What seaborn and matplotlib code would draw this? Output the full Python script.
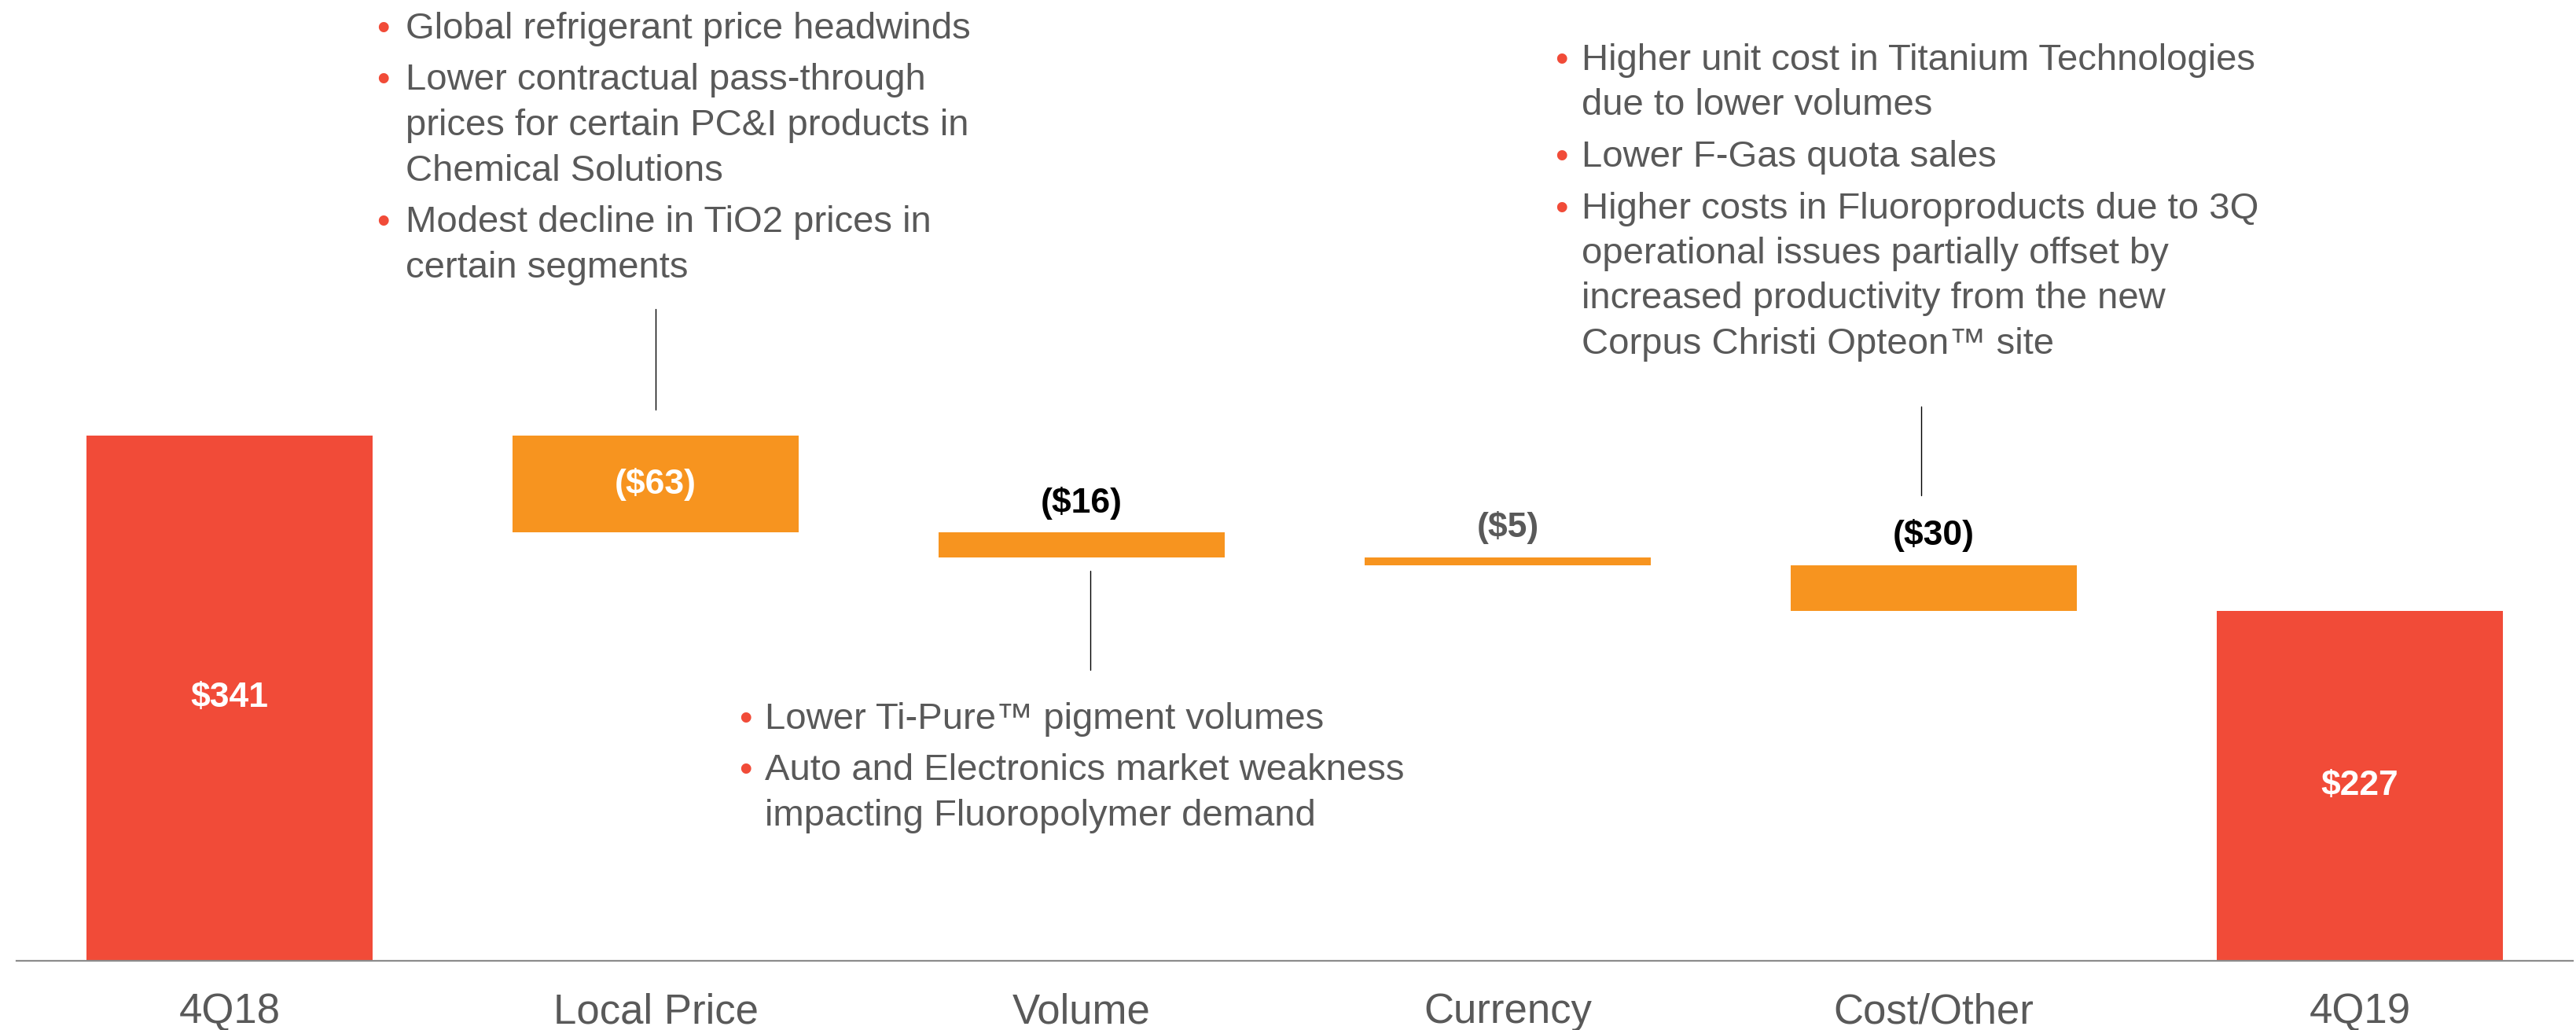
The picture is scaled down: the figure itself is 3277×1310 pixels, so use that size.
import numpy as np
import pandas as pd
import matplotlib
matplotlib.use('Agg')
import matplotlib.pyplot as plt
import seaborn as sns

# 기본 스타일
sns.set_style('white')
plt.rcParams['font.family'] = ['Liberation Sans', 'DejaVu Sans']

# 데이터
categories = ['4Q18', 'Local Price', 'Volume', 'Currency', 'Cost/Other', '4Q19']
changes = [341, -63, -16, -5, -30, 227]
is_total = [True, False, False, False, False, True]
value_labels = ['$341', '($63)', '($16)', '($5)', '($30)', '$227']

price_notes = [
    ['Global refrigerant price headwinds'],
    ['Lower contractual pass-through', 'prices for certain PC&I products in', 'Chemical Solutions'],
    ['Modest decline in TiO2 prices in', 'certain segments'],
]
volume_notes = [
    ['Lower Ti-Pure™ pigment volumes'],
    ['Auto and Electronics market weakness', 'impacting Fluoropolymer demand'],
]
cost_notes = [
    ['Higher unit cost in Titanium Technologies', 'due to lower volumes'],
    ['Lower F-Gas quota sales'],
    ['Higher costs in Fluoroproducts due to 3Q', 'operational issues partially offset by',
     'increased productivity from the new', 'Corpus Christi Opteon™ site'],
]

RED = '#F14B38'
ORANGE = '#F7941F'
GRAY = '#595959'

# 워터폴 계산
bottoms, tops = [], []
running = 0
for c, tot in zip(changes, is_total):
    if tot:
        bottoms.append(0)
        tops.append(c)
        running = c
    else:
        tops.append(running)
        running += c
        bottoms.append(running)

df = pd.DataFrame({'category': categories, 'top': tops, 'bottom': bottoms,
                   'kind': ['total' if t else 'change' for t in is_total]})

W, H = 3277, 1310
fig = plt.figure(figsize=(W / 100, H / 100), dpi=100)
ax = fig.add_axes([21 / W, 88 / H, 3252 / W, 1222 / H])

sns.barplot(data=df, x='category', y='top', hue='kind',
            palette={'total': RED, 'change': ORANGE}, dodge=False, saturation=1,
            width=0.67, linewidth=0, legend=False, ax=ax)
# 아래 부분 가리기 (흰색)
sns.barplot(data=df, x='category', y='bottom', color='white', saturation=1,
            width=0.69, linewidth=0, ax=ax)

ax.set_xlim(-0.5, 5.5)
ax.set_ylim(0, 1222 / 1.959)
ax.set_xlabel('')
ax.set_ylabel('')
ax.set_yticks([])
for s in ['left', 'right', 'top']:
    ax.spines[s].set_visible(False)
ax.spines['bottom'].set_color('#8C8C8C')
ax.spines['bottom'].set_linewidth(1.6)

ax.set_xticks(range(len(categories)))
ax.set_xticklabels(categories, fontsize=38, color=GRAY)
ax.set_xticks(np.arange(-0.5, len(categories)), minor=True)
ax.tick_params(axis='x', which='major', length=0, pad=29)
ax.tick_params(axis='x', which='minor', length=11, width=1, color='#8C8C8C')

# 값 레이블
for i, (lab, b, t) in enumerate(zip(value_labels, bottoms, tops)):
    h = t - b
    if h > 40:
        ax.text(i, (b + t) / 2, lab, ha='center', va='center',
                fontsize=32, fontweight='bold', color='white')
    else:
        col = GRAY if categories[i] == 'Currency' else 'black'
        ax.annotate(lab, (i, t), xytext=(0, 27), textcoords='offset points',
                    ha='center', va='center', fontsize=32, fontweight='bold', color=col)

# 연결선
for x, y0, y1 in [(1.0, 358, 423), (2.02, 189, 253), (3.97, 302, 360)]:
    ax.plot([x, x], [y0, y1], color='black', lw=1.0)


def draw_notes(x_bullet, x_text, y_first, notes, pitch=58, para=65):
    y = y_first
    for k, para_lines in enumerate(notes):
        if k > 0:
            y += para - pitch
        fig.text(x_bullet / W, 1 - (y + 1) / H, '•', fontsize=34, color=RED,
                 ha='left', va='baseline')
        for line in para_lines:
            fig.text(x_text / W, 1 - y / H, line, fontsize=34, color=GRAY,
                     ha='left', va='baseline')
            y += pitch


draw_notes(479, 516, 49, price_notes)
draw_notes(940, 973, 927, volume_notes)
draw_notes(1978, 2012, 89, cost_notes, pitch=57.5, para=65.5)

fig.savefig('out.png', dpi=100)
